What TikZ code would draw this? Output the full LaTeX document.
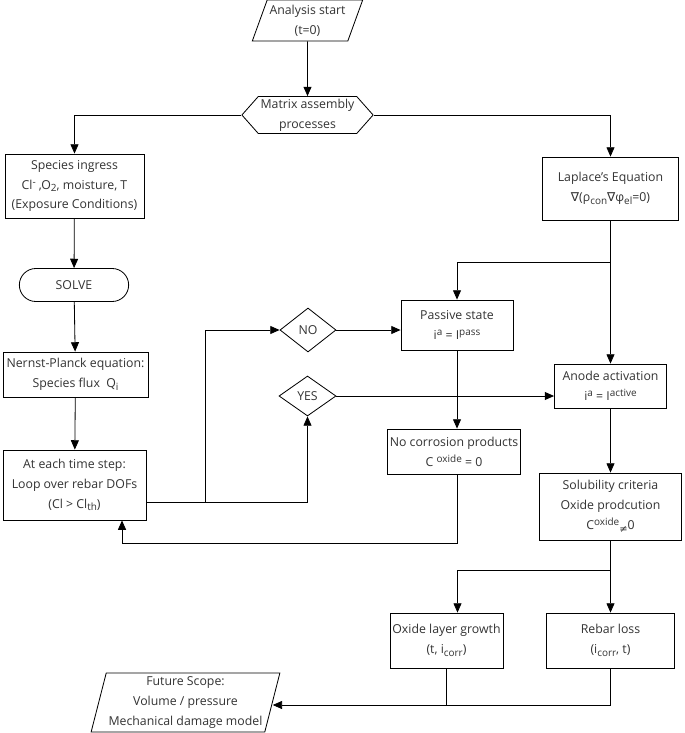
\documentclass[tikz,border=0pt]{standalone}
\usepackage{fontspec}
\setmainfont{Open Sans}
\newfontfamily\symfont{DejaVu Sans}
\usetikzlibrary{arrows.meta,shapes.geometric,shapes.misc,shapes.symbols}
\newcommand\flowfont{\fontsize{10.5}{17}\selectfont}
\newcommand\suptxt[1]{\raisebox{0.6ex}{\fontsize{8.5}{9}\selectfont #1}}
\newcommand\subtxt[1]{\raisebox{-0.4ex}{\fontsize{8.5}{9}\selectfont #1}}
\tikzset{
  flow/.style={-{Triangle[length=2.8mm,width=2.4mm]},line width=0.7pt,draw=black},
  link/.style={line width=0.7pt,draw=black},
  box/.style={draw=black,line width=0.7pt,fill=white,align=center,
    inner sep=2pt,text=black!80,font=\flowfont},
  slantbox/.style={box,trapezium,trapezium stretches=true},
  hexbox/.style={box,signal,signal to=west and east,signal pointer angle=97},
  solvebox/.style={box,rounded rectangle},
  choice/.style={box,diamond,inner sep=0pt}
}
\begin{document}
\begin{tikzpicture}[x=0.03cm,y=-0.03cm]
  \useasboundingbox (0,0) rectangle (685,733);
  % top of the chart
  \node[slantbox,trapezium left angle=67.5,trapezium right angle=112.5,
    minimum width=3.09cm,minimum height=1.23cm] (start) at (307.5,20.5) {Analysis start\\(t=0)};
  \node[hexbox,minimum width=3.69cm,minimum height=1.08cm] (matrix) at (307.5,115) {Matrix assembly\\processes};
  % transport branch
  \node[box,minimum width=4.17cm,minimum height=1.92cm] (species) at (74.5,186) {Species ingress\\
    Cl\suptxt{-} ,O\subtxt{2}, moisture, T\\(Exposure Conditions)};
  \node[solvebox,minimum width=3.42cm,minimum height=0.99cm] (solve) at (74,285) {SOLVE};
  \node[box,minimum width=4.35cm,minimum height=1.35cm] (nernst) at (75.5,374.5) {Nernst-Planck equation:\\
    Species flux\ \ Q\subtxt{i}};
  \node[box,minimum width=4.29cm,minimum height=2.1cm] (timestep) at (74.5,485) {At each time step:\\
    Loop over rebar DOFs\\(Cl > Cl\subtxt{th})};
  \node[choice,minimum width=1.68cm,minimum height=1.32cm] (no) at (308,330) {NO};
  \node[choice,minimum width=1.71cm,minimum height=1.2cm] (yes) at (307.5,396) {YES};
  % electrochemical branch
  \node[box,minimum width=4.08cm,minimum height=1.89cm] (laplace) at (610.5,188.5) {Laplace's Equation\\
    {\symfont∇}(ρ\subtxt{con}{\symfont∇}φ\subtxt{el}=0)};
  \node[box,minimum width=3.36cm,minimum height=1.5cm] (passive) at (457,325) {Passive state\\
    i\suptxt{a} = I\suptxt{pass}};
  \node[box,minimum width=3.36cm,minimum height=1.32cm] (anode) at (610.5,386) {Anode activation\\
    i\suptxt{a} = I\suptxt{active}};
  \node[box,minimum width=3.84cm,minimum height=1.35cm] (nocorr) at (454,451.5) {No corrosion products\\
    C \suptxt{oxide} = 0};
  \node[box,minimum width=4.26cm,minimum height=2.01cm] (sol) at (610.5,506.5) {Solubility criteria\\
    Oxide prodcution\\C\suptxt{oxide}\subtxt{\symfont ≠}0};
  \node[box,minimum width=3.21cm,minimum height=1.65cm] (oxide) at (446.5,640.5) {Oxide layer growth\\
    (t, i\subtxt{corr})};
  \node[box,minimum width=3.84cm,minimum height=1.65cm] (rebar) at (610.5,640.5) {Rebar loss\\
    (i\subtxt{corr}, t)};
  \node[slantbox,trapezium left angle=75,trapezium right angle=105,
    minimum width=5.37cm,minimum height=1.77cm] (future) at (185.5,702.5) {Future Scope:\\
    Volume / pressure\\Mechanical damage model};
  % junctions
  \coordinate (tsjoin) at (205,502);
  \coordinate (lapsplit) at (610.5,262);
  \coordinate (back) at (122,543);
  \coordinate (solsplit) at (610.5,570);
  \coordinate (botjoin) at (610.5,705);
  % connectors
  \draw[flow] (start) -- (matrix);
  \draw[flow] (matrix.west) -| (species.north);
  \draw[flow] (matrix.east) -| (laplace.north);
  \draw[flow] (species) -- (solve);
  \draw[flow] (solve) -- (nernst);
  \draw[flow] (nernst) -- (timestep);
  \draw[link] (timestep.east |- tsjoin) -- (yes |- tsjoin);
  \draw[flow] (tsjoin) |- (no.west);
  \draw[flow] (yes |- tsjoin) -- (yes.south);
  \draw[flow] (no.east) -- (no.east -| passive.west);
  \draw[flow] (yes.east) -- (yes.east -| anode.west);
  \draw[flow] (laplace) -- (anode);
  \draw[flow] (lapsplit) -| (passive.north);
  \draw[flow] (passive.south) -- (passive.south |- nocorr.north);
  \draw[flow] (passive.south |- nocorr.south) |- (back) -- (back |- timestep.south);
  \draw[flow] (anode) -- (sol);
  \draw[flow] (sol) -- (rebar);
  \draw[flow] (solsplit) -| ([xshift=0.33cm]oxide.north);
  \draw[link] (rebar.south) -- (botjoin);
  \draw[link] (oxide.south) -- (oxide.south |- botjoin);
  \draw[flow] (botjoin) -- (botjoin -| future.east);
\end{tikzpicture}
\end{document}
